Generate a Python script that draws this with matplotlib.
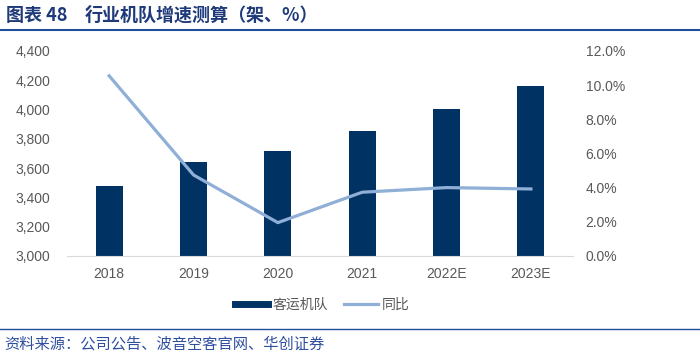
import matplotlib
matplotlib.use("Agg")
import matplotlib.pyplot as plt
from matplotlib.ticker import FuncFormatter, MultipleLocator
from matplotlib.lines import Line2D

plt.rcParams['font.family'] = ['Liberation Sans', 'Noto Sans CJK SC', 'DejaVu Sans']

years = ['2018', '2019', '2020', '2021', '2022E', '2023E']
fleet = [3476, 3641, 3714, 3852, 4004, 4162]
yoy = [10.54, 4.74, 1.95, 3.73, 4.00, 3.92]

bar_color = '#003264'
line_color = '#8FAFD7'
tick_color = '#595959'
title_color = '#1F3A7A'

fig = plt.figure(figsize=(7, 3.61), dpi=100)
ax = fig.add_axes([0.0957, 0.291, 0.723, 0.568])
x = list(range(len(years)))
ax.bar(x, fleet, width=0.32, color=bar_color, zorder=2)
ax.set_ylim(3000, 4400)
ax.yaxis.set_major_locator(MultipleLocator(200))
ax.yaxis.set_major_formatter(FuncFormatter(lambda v, p: f"{int(v):,}"))
ax.set_xlim(-0.5, len(years) - 0.5)
ax.set_xticks(x)
ax.set_xticklabels(years)
for s in ['top', 'right', 'left']:
    ax.spines[s].set_visible(False)
ax.spines['bottom'].set_color('#D9D9D9')
ax.tick_params(axis='both', length=0, colors=tick_color, labelsize=10)
ax.tick_params(axis='y', pad=12)
ax.tick_params(axis='x', pad=8)

ax2 = ax.twinx()
ax2.plot(x, yoy, color=line_color, lw=2.3, zorder=3)
ax2.set_ylim(0, 12)
ax2.yaxis.set_major_locator(MultipleLocator(2))
ax2.yaxis.set_major_formatter(FuncFormatter(lambda v, p: f"{v:.1f}%"))
for s in ['top', 'right', 'left', 'bottom']:
    ax2.spines[s].set_visible(False)
ax2.tick_params(axis='y', length=0, colors=tick_color, labelsize=10, pad=9)

handles = [Line2D([0], [0], color=bar_color, lw=5),
           Line2D([0], [0], color=line_color, lw=2.3)]
fig.legend(handles, ['客运机队', '同比'], loc='center', bbox_to_anchor=(0.46, 0.155),
           ncol=2, frameon=False, handlelength=2.4, handletextpad=0.3,
           columnspacing=1.2, labelcolor=tick_color,
           prop={'family': ['Noto Sans CJK SC'], 'size': 10})

fig.text(0.008, 0.957, '图表 48', fontsize=13, fontweight='bold',
         color=title_color, va='center', ha='left', family=['Noto Sans CJK SC', 'DejaVu Sans'])
fig.text(0.121, 0.957, '行业机队增速测算（架、%）', fontsize=13, fontweight='bold',
         color=title_color, va='center', ha='left', family=['Noto Sans CJK SC', 'DejaVu Sans'])
fig.add_artist(Line2D([0.0, 1.0], [0.917, 0.917], color='#1F4E9A', lw=1.5, transform=fig.transFigure))
fig.add_artist(Line2D([0.0, 1.0], [0.089, 0.089], color='#1F4E9A', lw=1.0, transform=fig.transFigure))
fig.text(0.006, 0.048, '资料来源：公司公告、波音空客官网、华创证券', fontsize=11, color='#2F4F9F',
         va='center', ha='left', family=['Noto Sans CJK SC', 'DejaVu Sans'])

fig.savefig('out.png', dpi=100)
